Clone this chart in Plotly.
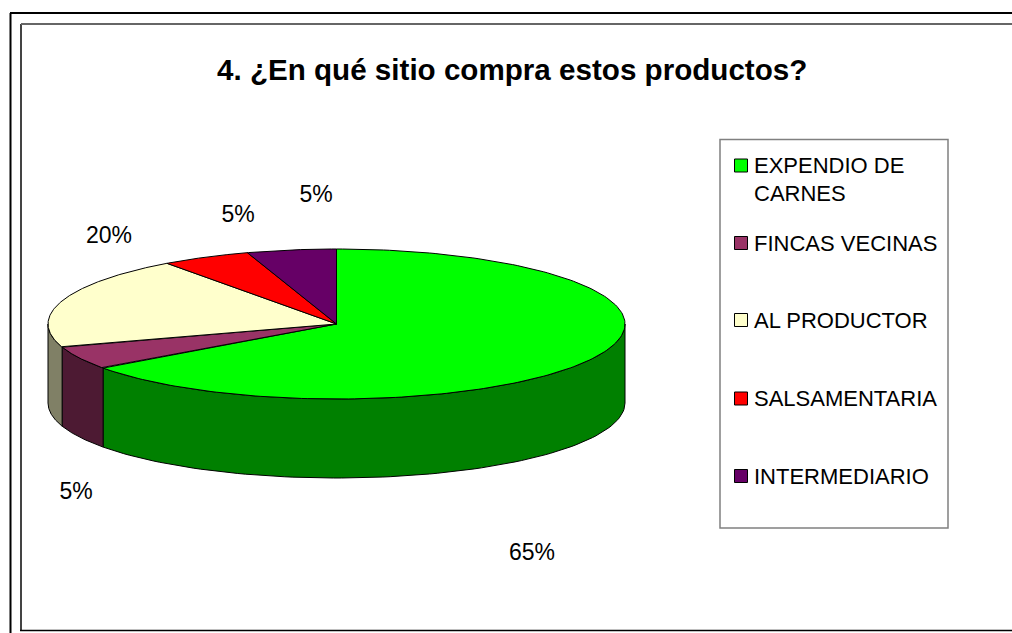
import numpy as np
import plotly.graph_objects as go

TITLE = "4. ¿En qué sitio compra estos productos?"
categories = ["EXPENDIO DE<br>CARNES", "FINCAS VECINAS", "AL PRODUCTOR", "SALSAMENTARIA", "INTERMEDIARIO"]
values = [65, 5, 20, 5, 5]
top_colors = ["#00FF00", "#993366", "#FFFFCC", "#FF0000", "#660066"]
side_colors = ["#008000", "#4D1A33", "#808066", "#800000", "#330033"]
label_x = [532, 76, 109, 238, 316]
label_y = [554, 493, 237, 216, 196]
legend_y = [165.5, 243, 320, 398.5, 476]
legend_line_y = [[165.5, 193.5], [243], [320], [398.5], [476]]

CX, CY, RX, RY, DEPTH = 336.5, 324, 288.5, 75, 79
FONT = "Liberation Sans, Arial, sans-serif"
W, H = 1012, 633

fig = go.Figure()


def ell(deg, dy=0.0):
    t = np.radians(deg)
    return CX + RX * np.sin(t), CY - RY * np.cos(t) + dy


def poly(xs, ys, color):
    fig.add_trace(go.Scatter(x=xs, y=ys, mode="lines", fill="toself", fillcolor=color,
                             line=dict(color="#000000", width=1), hoverinfo="skip", showlegend=False))


edges = np.concatenate([[0], np.cumsum(values)]) * 360.0 / sum(values)

# side walls: only the front half of the ellipse (90 to 270 degrees) is visible
for i in range(len(values)):
    a, b = max(edges[i], 90), min(edges[i + 1], 270)
    if a >= b:
        continue
    th = np.linspace(a, b, 90)
    x1, y1 = ell(th)
    x2, y2 = ell(th[::-1], DEPTH)
    poly(np.r_[x1, x2, x1[0]], np.r_[y1, y2, y1[0]], side_colors[i])

# top faces
for i in range(len(values)):
    th = np.linspace(edges[i], edges[i + 1], 200)
    x1, y1 = ell(th)
    poly(np.r_[CX, x1, CX], np.r_[CY, y1, CY], top_colors[i])

# percent labels
fig.add_trace(go.Scatter(x=label_x, y=label_y, mode="text",
                         text=[f"{v}%" for v in values],
                         textfont=dict(family=FONT, size=23, color="#000000"),
                         textposition="middle center", hoverinfo="skip", showlegend=False))

# legend swatches
fig.add_trace(go.Scatter(x=[741] * len(categories), y=legend_y, mode="markers",
                         marker=dict(symbol="square", size=13, color=top_colors,
                                     line=dict(color="#000000", width=1)),
                         hoverinfo="skip", showlegend=False))

# legend text
for cat, ys in zip(categories, legend_line_y):
    for line, y in zip(cat.split("<br>"), ys):
        fig.add_annotation(x=751.5, y=y, text=line, showarrow=False, xanchor="left", yanchor="middle",
                           font=dict(family=FONT, size=22, color="#000000"))

fig.add_annotation(x=512, y=69, text=f"<b>{TITLE}</b>", showarrow=False, xanchor="center", yanchor="middle",
                   font=dict(family=FONT, size=29.6, color="#000000"))

shapes = [
    dict(type="rect", x0=720, x1=948, y0=139.5, y1=528, line=dict(color="#808080", width=1.5), layer="below"),
    dict(type="line", x0=10.5, x1=10.5, y0=13, y1=H, line=dict(color="#000000", width=2)),
    dict(type="line", x0=10, x1=W, y0=13, y1=13, line=dict(color="#000000", width=2)),
    dict(type="line", x0=21, x1=21, y0=24, y1=631, line=dict(color="#444444", width=2)),
    dict(type="line", x0=21, x1=W, y0=24, y1=24, line=dict(color="#666666", width=2)),
    dict(type="line", x0=20, x1=W, y0=630.5, y1=630.5, line=dict(color="#000000", width=1.5)),
]

fig.update_layout(width=W, height=H, margin=dict(l=0, r=0, t=0, b=0),
                  paper_bgcolor="#FFFFFF", plot_bgcolor="#FFFFFF", shapes=shapes, showlegend=False,
                  xaxis=dict(range=[0, W], visible=False, fixedrange=True),
                  yaxis=dict(range=[H, 0], visible=False, fixedrange=True))

fig.write_html("out.html", config={"displayModeBar": False},
               post_script="document.body.style.margin='0';document.body.style.overflow='hidden';")
